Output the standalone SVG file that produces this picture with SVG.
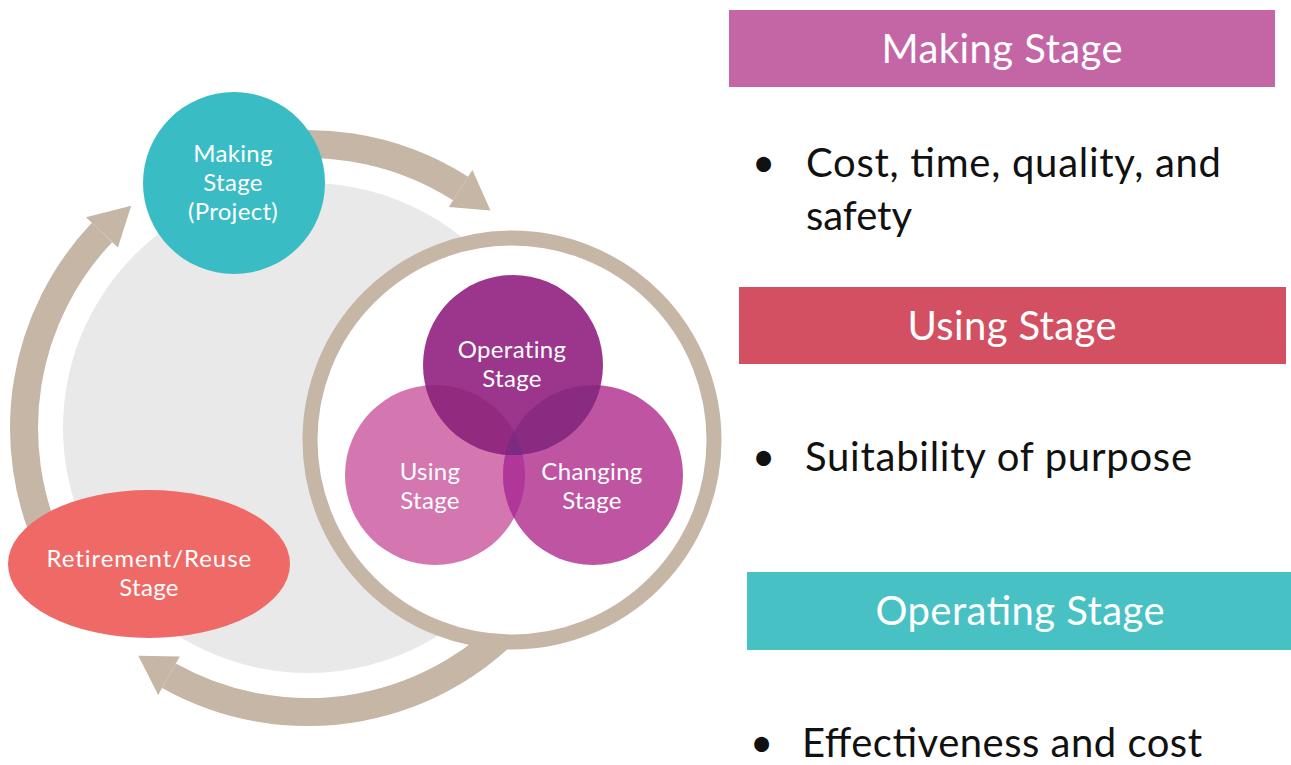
<svg xmlns="http://www.w3.org/2000/svg" width="1291" height="765" viewBox="0 0 1291 765">
  <style>
    .arc{fill:none;stroke:#c5b6a6;stroke-width:28}
    .head{fill:#c5b6a6}
    .lbl{font-family:Lato,"Open Sans",sans-serif;font-size:24px;fill:#ffffff;text-anchor:middle;letter-spacing:0.3px}
    .hdr{font-family:Lato,"Open Sans",sans-serif;font-size:40px;fill:#ffffff;text-anchor:middle}
    .body{font-family:Lato,"Open Sans",sans-serif;font-size:40px;fill:#111111}
  </style>
  <defs>
    <clipPath id="clipU"><circle cx="435" cy="475" r="90"/></clipPath>
    <clipPath id="clipO"><circle cx="513" cy="365" r="90"/></clipPath>
    <clipPath id="clipC"><circle cx="593" cy="475" r="90"/></clipPath>
  </defs>
  <rect width="1291" height="765" fill="#ffffff"/>

  <g id="background-disc">
    <circle cx="308" cy="428" r="245" fill="#e9e9e9"/>
  </g>

  <g id="connectors">
    <path class="arc" d="M 234.5 153.7 A 284 284 0 0 1 460.6 188.5"/>
    <polygon class="head" points="448.8,207.0 472.4,169.9 490.5,210.5"/>
    <path class="arc" d="M 525.5 610.6 A 284 284 0 0 1 169.0 675.7"/>
    <polygon class="head" points="179.8,656.5 158.2,694.9 138.3,655.7"/>
    <path class="arc" d="M 50.6 548.0 A 284 284 0 0 1 102.0 232.5"/>
    <polygon class="head" points="117.9,247.6 86.0,217.3 131.2,205.7"/>
  </g>

  <g id="making-node">
    <circle cx="234" cy="183" r="91" fill="#3abcc5"/>
    <text class="lbl"><tspan x="233" y="162">Making</tspan><tspan x="233" y="191">Stage</tspan><tspan x="233" y="220">(Project)</tspan></text>
  </g>

  <g id="retirement-node">
    <ellipse cx="149" cy="564" rx="141" ry="74" fill="#ef6a66"/>
    <text class="lbl"><tspan x="149" y="566.5" textLength="205">Retirement/Reuse</tspan><tspan x="149" y="595.5">Stage</tspan></text>
  </g>

  <g id="usage-ring">
    <circle cx="512" cy="440" r="202" fill="#ffffff" stroke="#c5b6a6" stroke-width="15"/>
  </g>

  <g id="venn">
    <circle cx="435" cy="475" r="90" fill="#d476b0"/>
    <circle cx="593" cy="475" r="90" fill="#bf55a2"/>
    <circle cx="513" cy="365" r="90" fill="#9c358c"/>
    <circle cx="593" cy="475" r="90" fill="#b0369a" clip-path="url(#clipU)"/>
    <circle cx="513" cy="365" r="90" fill="#922a80" clip-path="url(#clipU)"/>
    <circle cx="513" cy="365" r="90" fill="#8a2b82" clip-path="url(#clipC)"/>
    <g clip-path="url(#clipU)">
      <circle cx="513" cy="365" r="90" fill="#7d2a82" clip-path="url(#clipC)"/>
    </g>
  </g>
  <g id="operating-node">
    <text class="lbl"><tspan x="512" y="357.5">Operating</tspan><tspan x="512" y="386.5">Stage</tspan></text>
  </g>
  <g id="using-node">
    <text class="lbl"><tspan x="430" y="479.5">Using</tspan><tspan x="430" y="508.5">Stage</tspan></text>
  </g>
  <g id="changing-node">
    <text class="lbl"><tspan x="592" y="479.5">Changing</tspan><tspan x="592" y="508.5">Stage</tspan></text>
  </g>

  <g id="making-panel">
    <rect x="729" y="10" width="546" height="77" fill="#c466a5"/>
    <text class="hdr" x="1002" y="63" textLength="241">Making Stage</text>
    <text class="body" x="752" y="177">•</text>
    <text class="body" x="806" y="177" textLength="415">Cost, time, quality, and</text>
    <text class="body" x="806" y="230" textLength="106">safety</text>
  </g>

  <g id="using-panel">
    <rect x="739" y="287" width="547" height="77" fill="#d35062"/>
    <text class="hdr" x="1012" y="340" textLength="209">Using Stage</text>
    <text class="body" x="752" y="471">•</text>
    <text class="body" x="805" y="471" textLength="387">Suitability of purpose</text>
  </g>

  <g id="operating-panel">
    <rect x="747" y="572" width="544" height="78" fill="#48c1c4"/>
    <text class="hdr" x="1020" y="625" textLength="289">Operating Stage</text>
    <text class="body" x="750" y="757">•</text>
    <text class="body" x="802" y="757" textLength="400">Effectiveness and cost</text>
  </g>
</svg>
